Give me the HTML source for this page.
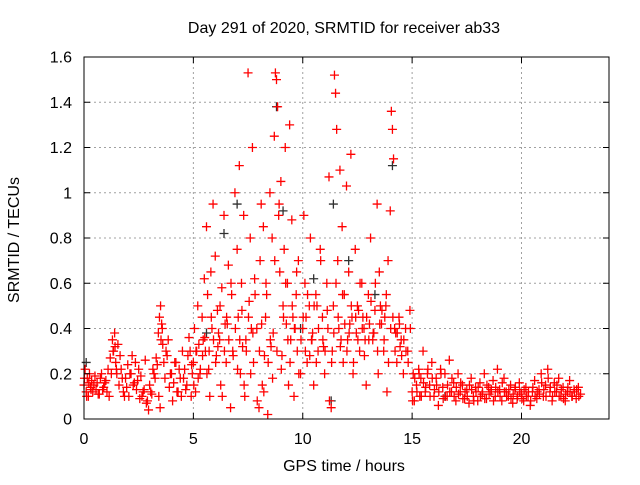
<!DOCTYPE html>
<html><head><meta charset="utf-8"><style>
body{margin:0;background:#fff}
svg text{font-family:"Liberation Sans",sans-serif;font-size:16px;fill:#000}
</style></head><body>
<svg id="c" width="640" height="480">
<rect width="640" height="480" fill="#fff"/>
<g id="grid"></g>
<g id="pts"></g>
<rect x="84" y="57" width="525" height="362" fill="none" stroke="#000" stroke-width="1"/>
<g id="ticks"></g>
<text x="344" y="33" text-anchor="middle">Day 291 of 2020, SRMTID for receiver ab33</text>
<text x="344" y="471" text-anchor="middle">GPS time / hours</text>
<text x="0" y="0" text-anchor="middle" transform="translate(19,240) rotate(-90)">SRMTID / TECUs</text>
</svg>
<script>
const xTicks=[0,5,10,15,20];
const yTicks=[0,0.2,0.4,0.6,0.8,1,1.2,1.4,1.6];
const yTickLabels=["0","0.2","0.4","0.6","0.8","1","1.2","1.4","1.6"];
const redT=[0,0.05,0.1,0.15,0.2,0.25,0.3,0.35,0.4,0.5,0.55,0.6,0.7,0.8,0.9,1.0,1.05,1.1,1.2,1.3,1.35,1.4,1.45,1.5,1.55,1.6,1.7,1.8,1.9,2.0,2.05,2.1,2.2,2.3,2.4,2.5,2.55,2.6,2.7,2.8,2.9,2.95,3.0,3.1,3.2,3.3,3.4,3.45,3.5,3.55,3.6,3.65,3.7,3.8,3.9,4.0,4.05,4.1,4.2,4.3,4.4,4.5,4.6,4.7,4.8,4.85,4.9,4.95,
5.0,5.05,5.1,5.2,5.25,5.3,5.4,5.5,5.55,5.6,5.65,5.7,5.75,5.8,5.85,5.9,6.0,6.05,6.1,6.2,6.25,6.3,6.4,6.45,6.5,6.6,6.7,6.75,6.8,6.9,7.0,7.05,7.1,7.15,7.2,7.3,7.35,7.4,7.5,7.55,7.6,7.7,7.75,7.8,7.9,8.0,8.05,8.1,8.15,8.2,8.3,8.35,8.4,8.5,8.55,8.6,8.7,8.75,8.8,8.85,8.9,8.95,9.0,9.05,9.1,9.15,9.2,9.3,9.35,9.4,9.45,9.5,9.55,9.6,9.7,9.75,9.8,9.9,10.0,10.05,10.1,10.2,10.3,10.35,10.4,10.5,10.6,10.7,10.8,10.9,11.0,11.1,11.2,11.3,11.35,11.4,11.45,11.5,11.55,11.6,11.65,11.7,11.8,11.85,11.9,12.0,12.05,12.1,12.2,12.25,12.3,12.4,12.5,12.6,12.7,12.8,12.9,13.0,13.1,13.2,13.3,13.4,13.45,13.5,13.6,13.7,13.8,13.85,13.9,14.0,14.05,14.1,14.15,14.2,14.3,14.4,14.5,14.6,14.7,14.8,14.9,
5.15,5.45,6.15,6.55,7.25,7.65,8.25,8.65,9.25,9.65,10.15,10.45,10.65,10.95,11.15,11.75,12.15,12.45,12.55,12.75,12.85,13.05,13.25,13.55,13.75,14.25,14.45,
15.0,15.05,15.1,15.2,15.3,15.35,15.4,15.5,15.6,15.7,15.8,15.9,16.0,16.1,16.2,16.3,16.4,16.5,16.6,16.7,16.8,16.9,17.0,17.1,17.2,17.3,17.4,17.5,17.6,17.7,17.8,17.9,18.0,18.1,18.2,18.3,18.4,18.5,18.6,18.7,18.8,18.9,19.0,19.1,19.2,19.3,19.4,19.5,19.6,19.7,19.8,19.9,20.0,20.1,20.2,20.3,20.4,20.5,20.6,20.7,20.8,20.9,21.0,21.1,21.2,21.3,21.4,21.5,21.6,21.7,21.8,21.9,22.0,22.1,22.2,22.3,22.4,22.5,22.6,22.7,
0.02,0.12,0.22,0.32,0.45,0.65,0.75,0.85,0.95,1.15,1.25,1.33,1.42,1.48,1.65,1.75,1.85,1.95,2.15,2.25,2.35,2.45,2.65,2.75,2.85,3.05,3.15,3.25,3.35,3.42,3.48,3.52,3.58,3.75,3.85,3.95,4.15,4.25,4.35,4.45,4.55,4.65,4.75,4.92,
5.02,5.12,5.22,5.32,5.42,5.52,5.62,5.72,5.82,5.92,6.02,6.12,6.22,6.32,6.42,6.52,6.62,6.72,6.82,6.92,7.02,7.12,7.22,7.32,7.42,7.52,7.62,7.72,7.82,7.92,8.02,8.12,8.22,8.32,8.42,8.52,8.62,8.72,8.82,8.92,9.02,9.12,9.22,9.32,9.42,9.52,9.62,9.72,9.82,9.92,10.02,10.12,10.22,10.32,10.42,10.52,10.62,10.72,10.82,10.92,11.02,11.12,11.22,11.32,11.42,11.52,11.62,11.72,11.82,11.92,12.02,12.12,12.22,12.32,12.42,12.52,12.62,12.72,12.82,12.92,13.02,13.12,13.22,13.32,13.42,13.52,13.62,13.72,13.82,13.92,14.02,14.12,14.22,14.32,14.42,14.52,14.62,14.72,14.82,14.92,
15.02,15.12,15.22,15.32,15.42,15.52,15.62,15.72,15.82,15.92,16.02,16.12,16.22,16.32,16.42,16.52,16.62,16.72,16.82,16.92,17.02,17.12,17.22,17.32,17.42,17.52,17.62,17.72,17.82,17.92,18.02,18.12,18.22,18.32,18.42,18.52,18.62,18.72,18.82,18.92,19.02,19.12,19.22,19.32,19.42,19.52,19.62,19.72,19.82,19.92,20.02,20.12,20.22,20.32,20.42,20.52,20.62,20.72,20.82,20.92,21.02,21.12,21.22,21.32,21.42,21.52,21.62,21.72,21.82,21.92,22.02,22.12,22.22,22.32,22.42,22.52,22.62];
const redV=[.15,.22,.12,.18,.1,.2,.14,.17,.12,.19,.13,.16,.11,.2,.14,.17,.12,.22,.27,.35,.3,.38,.25,.2,.33,.15,.22,.12,.18,.24,.1,.2,.28,.16,.13,.22,.09,.19,.12,.26,.08,.04,.15,.11,.2,.27,.38,.45,.5,.42,.33,.25,.18,.28,.14,.2,.08,.16,.25,.12,.18,.3,.22,.15,.36,.3,.1,.2,
.25,.4,.12,.5,.33,.2,.45,.62,.3,.85,.55,.22,.1,.65,.4,.95,.72,.28,.48,.35,.15,.58,.9,.42,.25,.68,.05,.55,.3,1.0,.75,.45,1.12,.2,.6,.9,.1,.35,1.53,.52,.8,1.2,.25,.62,.4,.05,.7,.95,.15,.85,.45,.55,.02,1.0,.32,.8,1.25,1.53,1.5,1.38,.9,.65,1.05,.28,.5,.75,1.2,.6,.15,1.3,.35,.88,.45,.1,.55,.3,.7,.2,.4,.9,.6,.25,.5,.8,.35,.15,.55,.3,.75,.45,.2,.6,1.07,.05,.3,.5,1.52,1.44,1.28,.7,.4,1.1,.85,.25,.55,1.03,.35,.65,1.17,.45,.2,.75,.5,.3,.6,.4,.15,.55,.8,.35,.48,.95,.2,.65,.42,.3,.5,.12,.7,.92,1.36,1.28,1.15,.4,.25,.45,.35,.2,.4,.3,.48,
.3,.35,.38,.42,.32,.4,.28,.38,.42,.4,.45,.38,.5,.32,.4,.35,.42,.38,.48,.45,.35,.42,.38,.5,.45,.38,.32,
.12,.2,.08,.15,.22,.1,.18,.3,.12,.2,.15,.25,.1,.18,.06,.22,.14,.2,.1,.26,.12,.16,.08,.2,.12,.15,.09,.13,.07,.18,.1,.14,.08,.16,.11,.2,.09,.14,.12,.17,.1,.22,.13,.08,.18,.12,.1,.15,.07,.13,.09,.16,.11,.08,.14,.1,.06,.12,.17,.09,.13,.2,.1,.15,.22,.12,.08,.16,.12,.18,.1,.14,.08,.12,.17,.1,.13,.09,.14,.11,
.18,.1,.16,.13,.15,.11,.18,.13,.16,.1,.2,.3,.32,.22,.28,.18,.1,.14,.2,.15,.25,.17,.1,.13,.07,.12,.22,.18,.24,.1,.05,.35,.4,.3,.35,.2,.25,.12,.22,.1,.18,.13,.28,.24,
.15,.3,.18,.22,.28,.36,.2,.3,.45,.35,.25,.32,.5,.1,.3,.45,.35,.6,.28,.4,.22,.35,.48,.15,.3,.45,.2,.38,.55,.08,.3,.42,.12,.6,.25,.35,.18,.7,.3,.95,.22,.45,.6,.35,.25,.5,.4,.65,.2,.35,.45,.3,.55,.28,.35,.5,.25,.4,.7,.35,.3,.48,.08,.25,.38,.6,.45,.32,.55,.42,.3,.38,.5,.25,.45,.35,.6,.4,.28,.45,.35,.52,.38,.6,.3,.42,.48,.35,.55,.25,.4,.45,.3,.38,.42,.28,.35,.3,.25,.4,
.08,.18,.12,.2,.1,.16,.14,.22,.1,.18,.13,.15,.12,.2,.09,.1,.15,.12,.18,.1,.14,.11,.16,.09,.12,.1,.15,.13,.08,.12,.14,.1,.12,.09,.15,.11,.13,.08,.14,.12,.1,.16,.12,.1,.13,.09,.11,.14,.1,.12,.09,.13,.1,.12,.08,.14,.1,.12,.11,.16,.13,.1,.18,.14,.1,.12,.15,.1,.13,.09,.11,.14,.12,.1,.12,.13,.1];
const blackT=[0.1,5.6,6.4,7.0,8.8,9.1,9.9,10.5,11.3,11.4,12.1,13.3,14.1,16.5];
const blackV=[.25,.38,.82,.95,1.38,.92,.4,.62,.08,.95,.7,.55,1.12,.1];
const NS='http://www.w3.org/2000/svg';
const X=h=>84+h*(525/24);
const Y=v=>419-v*(362/1.6);
function mk(tag,attrs,parent){const e=document.createElementNS(NS,tag);for(const k in attrs)e.setAttribute(k,attrs[k]);parent.appendChild(e);return e;}
const grid=document.getElementById('grid'),ticks=document.getElementById('ticks'),pts=document.getElementById('pts');
xTicks.forEach(t=>{
  if(t>0){const g=mk('line',{x1:X(t),x2:X(t),y1:57,y2:419,stroke:'#a0a0a0','stroke-dasharray':'2,3'},grid);
  
  }
  const tk=mk('path',{d:`M${X(t)},419v-6M${X(t)},57v6`,stroke:'#000'},ticks);
  
  
  const l=mk('text',{x:X(t),y:444,'text-anchor':'middle'},ticks);l.textContent=t;
  
  
});
yTicks.forEach((t,i)=>{
  if(t>0&&t<1.6){const g=mk('line',{x1:84,x2:609,y1:Y(t),y2:Y(t),stroke:'#a0a0a0','stroke-dasharray':'2,3'},grid);
  
  }
  const tk=mk('path',{d:`M84,${Y(t)}h6M609,${Y(t)}h-6`,stroke:'#000'},ticks);
  
  
  const l=mk('text',{x:72,y:Y(t)+5.5,'text-anchor':'end'},ticks);l.textContent=yTickLabels[i];
  
  
});
function plus(t,v,col,name){const x=X(t),y=Y(v);
  const p=mk('path',{d:`M${x-4.5},${y}h9M${x},${y-4.5}v9`,stroke:col,'stroke-width':1.3},pts);
  
  }
blackT.forEach((t,i)=>plus(t,blackV[i],'#303030','black-point'));
redT.forEach((t,i)=>plus(t,redV[i],'#ff0000','red-point'));
</script>
</body></html>
